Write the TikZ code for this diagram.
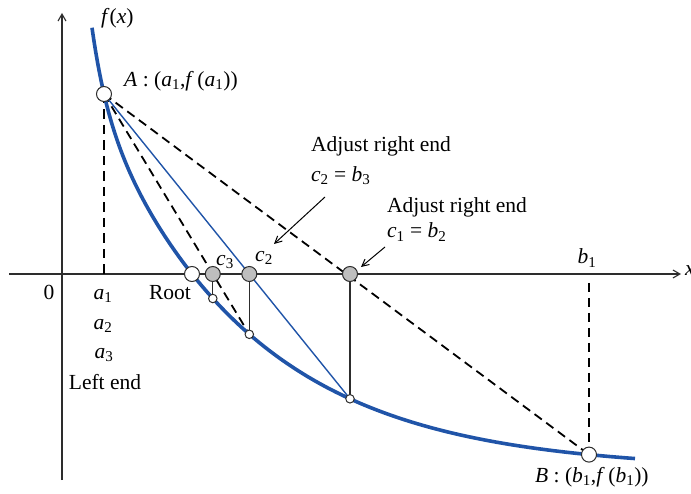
\documentclass[tikz,border=0pt]{standalone}
\usepackage{fontspec}
\setmainfont{Liberation Serif}
\usetikzlibrary{arrows.meta}
\definecolor{curveblue}{RGB}{32,84,168}
\definecolor{axisgray}{RGB}{45,45,45}
\definecolor{ptgray}{RGB}{190,190,190}
\newcommand{\sbs}[1]{\textsubscript{#1}}
\begin{document}
\begin{tikzpicture}[x=1pt,y=-1pt,
  declare function={fcurve(\t)=470-196*exp(-(\t-192)/156)-75*exp(-(\t-91)/15);},
  every node/.style={font=\fontsize{21.5}{25}\selectfont},
  lbl/.style={inner sep=0pt},
  axisline/.style={draw=axisgray,line width=1.3pt,-{Straight Barb[length=7pt,width=8pt,line width=1.1pt]}},
  dashline/.style={draw=black,line width=1.8pt,dash pattern=on 9pt off 5.5pt},
  secant/.style={draw=curveblue,line width=1.4pt},
  drop/.style={draw=axisgray,line width=1.2pt},
  bigpt/.style={circle,draw=axisgray,fill=white,line width=1pt,minimum size=15pt,inner sep=0pt},
  graypt/.style={circle,draw=axisgray,fill=ptgray,line width=1pt,minimum size=15pt,inner sep=0pt},
  smallpt/.style={circle,draw=axisgray,fill=white,line width=1pt,minimum size=8.5pt,inner sep=0pt},
  callout/.style={draw=black,line width=1pt,-{Straight Barb[length=7pt,width=7pt,line width=1pt]}}]
\useasboundingbox (0,0) rectangle (691,494);
% coordinates
\coordinate (yb) at (62,480);
\coordinate (yt) at (62,13);
\coordinate (xl) at (9,274);
\coordinate (xr) at (681,274);
\coordinate (pA) at (104,94);
\coordinate (pB) at (589,454.6);
\coordinate (pRoot) at (192,274);
\coordinate (pc1) at (350,274);
\coordinate (pc2) at (249.3,274);
\coordinate (pc3) at (212.8,274);
\coordinate (pf1) at (350,398.8);
\coordinate (pf2) at (249.3,334.3);
\coordinate (pf3) at (212.8,298.5);
\coordinate (pa1) at (104,274);
\coordinate (pb1) at (589,283);
\coordinate (arr1s) at (325,197);
\coordinate (arr1e) at (274,244);
\coordinate (arr2s) at (385,247);
\coordinate (arr2e) at (361,267);
% axes
\draw[axisline] (yb) -- (yt);
\draw[axisline] (xl) -- (xr);
% guide lines
\draw[dashline,dash pattern=on 9.5pt off 6pt] (pA) -- (pa1);
\draw[dashline,dash pattern=on 9pt off 6pt] (pb1) -- (pB);
\draw[dashline] (pA) -- (pB);
\draw[dashline] (pA) -- (pf2);
\draw[secant] (pA) -- (pf1);
\draw[drop] (pc1) -- (pf1);
\draw[drop] (pc2) -- (pf2);
\draw[drop] (pc3) -- (pf3);
% curve
\draw[curveblue,line width=3.6pt] plot[domain=92:635,samples=300] (\x,{fcurve(\x)});
% points
\node[bigpt] (A) at (pA) {};
\node[bigpt] (B) at (pB) {};
\node[bigpt] (root) at (pRoot) {};
\node[graypt] (c1) at (pc1) {};
\node[graypt] (c2) at (pc2) {};
\node[graypt] (c3) at (pc3) {};
\node[smallpt] (f1) at (pf1) {};
\node[smallpt] (f2) at (pf2) {};
\node[smallpt] (f3) at (pf3) {};
% callouts
\draw[callout] (arr1s) -- (arr1e);
\draw[callout] (arr2s) -- (arr2e);
% labels
\node[lbl,anchor=west] (fx) at (101,18) {\textit{f}(\textit{x})};
\node[lbl,anchor=west] (xlab) at (685,271) {\textit{x}};
\node[lbl] (zero) at (49,292) {0};
\node[lbl] (la1) at (103,296) {\textit{a}\sbs{1}};
\node[lbl] (la2) at (103,326) {\textit{a}\sbs{2}};
\node[lbl] (la3) at (104,355) {\textit{a}\sbs{3}};
\node[lbl] (leftend) at (105,382) {Left end};
\node[lbl] (rootlab) at (170,293) {Root};
\node[lbl] (lc3) at (225,262) {\textit{c}\sbs{3}};
\node[lbl] (lc2) at (264,258) {\textit{c}\sbs{2}};
\node[lbl] (lb1) at (587,258) {\textit{b}\sbs{1}};
\node[lbl,anchor=west] (Alab) at (124,81) {\textit{A} : (\textit{a}\sbs{1},\textit{f}\,(\textit{a}\sbs{1}))};
\node[lbl,anchor=west] (Blab) at (535,477) {\textit{B} : (\textit{b}\sbs{1},\textit{f}\,(\textit{b}\sbs{1}))};
\node[lbl,anchor=west] (adj1) at (311,146) {Adjust right end};
\node[lbl,anchor=west] (eq1) at (311,176) {\textit{c}\sbs{2} = \textit{b}\sbs{3}};
\node[lbl,anchor=west] (adj2) at (387,207) {Adjust right end};
\node[lbl,anchor=west] (eq2) at (387,232) {\textit{c}\sbs{1} = \textit{b}\sbs{2}};
\end{tikzpicture}
\end{document}
